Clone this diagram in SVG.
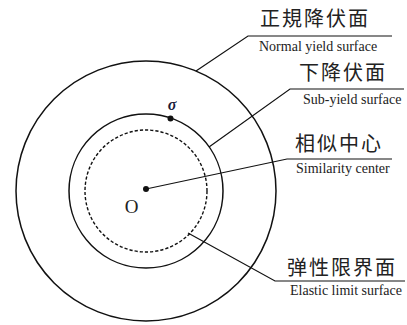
<svg xmlns="http://www.w3.org/2000/svg" width="407" height="325" viewBox="0 0 407 325">
<style>
.c{fill:none;stroke:#111;stroke-width:1.5}
.d{fill:none;stroke:#111;stroke-width:1.4;stroke-dasharray:3.2 2}
.l{fill:none;stroke:#111;stroke-width:1.2}
.zh{font-family:"Noto Sans CJK SC","Noto Sans CJK JP",sans-serif;font-size:20px;letter-spacing:2px;fill:#222}
.en{font-family:"Liberation Serif",serif;font-size:14px;fill:#222}
.dot{fill:#111}
</style>
<rect width="407" height="325" fill="#fff"/>
<g id="outer-circle"><circle class="c" cx="146" cy="191" r="130"/></g>
<g id="sub-yield-circle"><circle class="c" cx="146" cy="191" r="77"/></g>
<g id="elastic-circle"><circle class="d" cx="146" cy="191" r="61"/></g>
<g id="center">
<circle class="dot" cx="146" cy="189" r="3"/>
<text x="131.5" y="213" text-anchor="middle" style="font-family:'Liberation Serif',serif;font-size:19px;fill:#222">O</text>
</g>
<g id="sigma">
<circle class="dot" cx="170.5" cy="118.5" r="3"/>
<text x="172" y="110" text-anchor="middle" style="font-family:'Liberation Serif',serif;font-size:16px;font-style:italic;font-weight:bold;fill:#1a1a3a">σ</text>
</g>
<g id="connectors">
<polyline class="l" points="196,71 248,36 392,36"/>
<polyline class="l" points="209,147 290,89 404,89"/>
<polyline class="l" points="146,189 287,159 392,159"/>
<polyline class="l" points="188,233 275,281 405,281"/>
</g>
<g id="label-normal">
<text class="zh" x="260" y="26">正規降伏面</text>
<text class="en" x="259" y="51">Normal yield surface</text>
</g>
<g id="label-sub">
<text class="zh" x="299" y="80">下降伏面</text>
<text class="en" x="303" y="104">Sub-yield surface</text>
</g>
<g id="label-similarity">
<text class="zh" x="295" y="151">相似中心</text>
<text class="en" x="296" y="173">Similarity center</text>
</g>
<g id="label-elastic">
<text class="zh" x="287" y="275">弹性限界面</text>
<text class="en" x="290" y="295">Elastic limit surface</text>
</g>
</svg>
